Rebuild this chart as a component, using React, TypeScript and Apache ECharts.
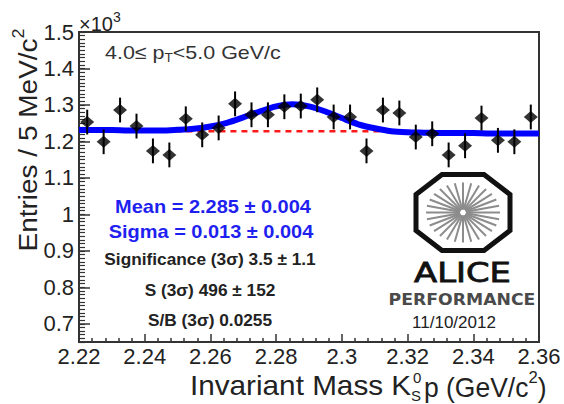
import React, { useEffect, useRef } from 'react';
import * as echarts from 'echarts';

// ---- data (values in units of 10^3 entries) ----
const binCenters = [
  2.2225, 2.2275, 2.2325, 2.2375, 2.2425, 2.2475, 2.2525, 2.2575, 2.2625, 2.2675,
  2.2725, 2.2775, 2.2825, 2.2875, 2.2925, 2.2975, 2.3025, 2.3075, 2.3125, 2.3175,
  2.3225, 2.3275, 2.3325, 2.3375, 2.3425, 2.3475, 2.3525, 2.3575,
];
const counts = [
  1.253, 1.199, 1.286, 1.242, 1.174, 1.163, 1.262, 1.218, 1.237, 1.303,
  1.273, 1.273, 1.295, 1.297, 1.314, 1.267, 1.267, 1.174, 1.286, 1.278,
  1.212, 1.221, 1.163, 1.188, 1.264, 1.203, 1.199, 1.267,
];
const errors = [
  0.034, 0.034, 0.034, 0.034, 0.034, 0.034, 0.034, 0.034, 0.034, 0.034,
  0.034, 0.034, 0.034, 0.034, 0.034, 0.034, 0.034, 0.034, 0.034, 0.034,
  0.034, 0.034, 0.034, 0.034, 0.034, 0.034, 0.034, 0.034,
];
const fitMass = [
  2.22, 2.225, 2.23, 2.235, 2.24, 2.245, 2.25, 2.255, 2.26, 2.265,
  2.27, 2.275, 2.28, 2.285, 2.29, 2.295, 2.3, 2.305, 2.31, 2.315,
  2.32, 2.325, 2.33, 2.335, 2.34, 2.345, 2.35, 2.355, 2.36,
];
const fitValues = [
  1.231, 1.231, 1.231, 1.230, 1.230, 1.230, 1.232, 1.235, 1.241, 1.251,
  1.266, 1.282, 1.296, 1.302, 1.296, 1.282, 1.264, 1.247, 1.236, 1.228,
  1.225, 1.224, 1.223, 1.223, 1.223, 1.222, 1.222, 1.222, 1.222,
];
const bkgMass = [2.246, 2.324];
const bkgValues = [1.228, 1.228];
const xTickLabels = ['2.22', '2.24', '2.26', '2.28', '2.3', '2.32', '2.34', '2.36'];
const yTickLabels = ['0.7', '0.8', '0.9', '1', '1.1', '1.2', '1.3', '1.4', '1.5'];

const FONT = "'Liberation Sans', Arial, Helvetica, sans-serif";
const DEJAVU = "'DejaVu Sans', sans-serif";
const TXT = '#222';

export default function App() {
  const ref = useRef<HTMLDivElement>(null);

  useEffect(() => {
    if (!ref.current) return;
    const chart = echarts.init(ref.current, null, { renderer: 'svg' });

    const xTicks = xTickLabels.map(Number);
    const yTicks = yTickLabels.map(Number);

    // ALICE logo geometry
    const cx = 463, cy = 212.5;
    const octagon = [
      [cx - 21, cy - 38], [cx + 21, cy - 38], [cx + 47, cy - 18], [cx + 47, cy + 18],
      [cx + 21, cy + 38], [cx - 21, cy + 38], [cx - 47, cy + 18], [cx - 47, cy - 18],
    ];
    const spokes: any[] = [];
    const nSpokes = 28;
    for (let k = 0; k < nSpokes; k++) {
      const a = (k * 2 * Math.PI) / nSpokes;
      spokes.push({
        type: 'line',
        shape: {
          x1: cx + Math.cos(a) * 3, y1: cy + Math.sin(a) * 3,
          x2: cx + Math.cos(a) * 37, y2: cy + Math.sin(a) * 30,
        },
        style: { stroke: '#8c8c8c', lineWidth: 2 },
      });
    }

    const option: any = {
      animation: false,
      backgroundColor: '#fff',
      grid: {
        left: 79, top: 32, right: 25, bottom: 62,
        show: true, borderColor: '#333', borderWidth: 2, backgroundColor: 'transparent',
      },
      xAxis: {
        type: 'value', min: 2.22, max: 2.36, interval: 0.02,
        axisLine: { show: true, lineStyle: { color: '#333', width: 2 } },
        axisTick: { show: true, inside: true, length: 8, lineStyle: { color: '#333', width: 1.5 } },
        minorTick: { show: true, splitNumber: 5, length: 4, lineStyle: { color: '#333', width: 1.5 } },
        splitLine: { show: false },
        axisLabel: {
          fontSize: 22, color: TXT, fontFamily: FONT, margin: 3,
          customValues: xTicks,
          formatter: (v: number) => String(parseFloat(v.toFixed(3))),
        },
      },
      yAxis: [
        {
          type: 'value', min: 0.65, max: 1.5, interval: 0.05,
          axisLine: { show: true, lineStyle: { color: '#333', width: 2 } },
          axisTick: {
            show: true, inside: true, length: 11, customValues: yTicks,
            lineStyle: { color: '#333', width: 1.5 },
          },
          splitLine: { show: false },
          axisLabel: {
            fontSize: 22, color: TXT, fontFamily: FONT, margin: 5,
            customValues: yTicks,
            formatter: (v: number) => {
              const r = Math.round(v * 10) / 10;
              return Math.abs(r - v) < 1e-6 ? String(r) : '';
            },
          },
        },
        {
          type: 'value', min: 0.65, max: 1.5, interval: 0.01, position: 'left',
          axisLine: { show: false },
          axisTick: { show: true, inside: true, length: 6, lineStyle: { color: '#333', width: 1.2 } },
          axisLabel: { show: false },
          splitLine: { show: false },
        },
      ],
      series: [
        {
          type: 'line', name: 'bkg', z: 2,
          data: bkgMass.map((m, i) => [m, bkgValues[i]]),
          showSymbol: false, symbol: 'none',
          lineStyle: { color: '#ff1a1a', width: 2.5, type: [6, 5] },
        },
        {
          type: 'line', name: 'fit', z: 3, smooth: 0.3,
          data: fitMass.map((m, i) => [m, fitValues[i]]),
          showSymbol: false, symbol: 'none',
          lineStyle: { color: '#0000ff', width: 6 },
        },
        {
          type: 'custom', name: 'err', z: 4,
          data: binCenters.map((m, i) => [m, counts[i], errors[i]]),
          encode: { x: 0, y: 1 },
          renderItem: (params: any, api: any) => {
            const x = api.value(0), y = api.value(1), e = api.value(2);
            const p1 = api.coord([x, y - e]);
            const p2 = api.coord([x, y + e]);
            return {
              type: 'line',
              shape: { x1: p1[0], y1: p1[1], x2: p2[0], y2: p2[1] },
              style: { stroke: '#000', lineWidth: 2 },
            };
          },
        },
        {
          type: 'scatter', name: 'data', z: 5,
          data: binCenters.map((m, i) => [m, counts[i]]),
          symbol: 'diamond', symbolSize: [14, 12],
          itemStyle: { color: '#000' },
        },
      ],
      graphic: [
        {
          type: 'text', x: 79, y: 34, z: 10,
          style: {
            text: '{a|×10}{b|3}', align: 'left', verticalAlign: 'bottom',
            rich: {
              a: { fontSize: 20, fontFamily: FONT, fill: TXT, lineHeight: 24, verticalAlign: 'bottom' },
              b: { fontSize: 14, fontFamily: FONT, fill: TXT, lineHeight: 14, verticalAlign: 'top' },
            },
          },
        },
        {
          type: 'text', x: 26, y: 140, rotation: Math.PI / 2, scaleX: 1.12, z: 10,
          style: {
            text: '{a|Entries / 5 MeV/c}{b|2}', align: 'center', verticalAlign: 'middle',
            rich: {
              a: { fontSize: 25, fontFamily: FONT, fill: TXT, lineHeight: 30, verticalAlign: 'bottom' },
              b: { fontSize: 16, fontFamily: FONT, fill: TXT, lineHeight: 16, verticalAlign: 'top' },
            },
          },
        },
        // x-axis title, split so that K carries a stacked 0 / S
        {
          type: 'text', x: 190, y: 385, scaleX: 1.1, z: 10,
          style: {
            text: 'Invariant Mass K', fontSize: 27, fontFamily: FONT, fill: TXT,
            align: 'left', verticalAlign: 'middle',
          },
        },
        {
          type: 'text', x: 413, y: 377, z: 10,
          style: { text: '0', fontSize: 15, fontFamily: FONT, fill: TXT, align: 'left', verticalAlign: 'middle' },
        },
        {
          type: 'text', x: 411, y: 395, z: 10,
          style: { text: 'S', fontSize: 15, fontFamily: FONT, fill: TXT, align: 'left', verticalAlign: 'middle' },
        },
        {
          type: 'text', x: 424, y: 385, scaleX: 0.98, z: 10,
          style: {
            text: '{a|p (GeV/c}{b|2}{a|)}', align: 'left', verticalAlign: 'middle',
            rich: {
              a: { fontSize: 27, fontFamily: FONT, fill: TXT, lineHeight: 32, verticalAlign: 'bottom' },
              b: { fontSize: 17, fontFamily: FONT, fill: TXT, lineHeight: 17, verticalAlign: 'top' },
            },
          },
        },
        {
          type: 'text', x: 105, y: 52, scaleX: 1.13, z: 10,
          style: {
            text: '{a|4.0≤ p}{b|T}{a|<5.0 GeV/c}', align: 'left', verticalAlign: 'middle',
            rich: {
              a: { fontSize: 19, fontFamily: FONT, fill: '#333', lineHeight: 24, verticalAlign: 'middle' },
              b: { fontSize: 12, fontFamily: FONT, fill: '#333', lineHeight: 12, verticalAlign: 'bottom' },
            },
          },
        },
        {
          type: 'text', x: 213, y: 207, scaleX: 1.11, z: 10,
          style: {
            text: 'Mean = 2.285 ± 0.004', fontSize: 18, fontWeight: 'bold', fontFamily: FONT,
            fill: '#1f1ff0', align: 'center', verticalAlign: 'middle',
          },
        },
        {
          type: 'text', x: 211, y: 232, scaleX: 1.11, z: 10,
          style: {
            text: 'Sigma = 0.013 ± 0.004', fontSize: 18, fontWeight: 'bold', fontFamily: FONT,
            fill: '#1f1ff0', align: 'center', verticalAlign: 'middle',
          },
        },
        {
          type: 'text', x: 210, y: 260, scaleX: 1.08, z: 10,
          style: {
            text: 'Significance (3σ) 3.5 ± 1.1', fontSize: 16, fontWeight: 'bold', fontFamily: FONT,
            fill: TXT, align: 'center', verticalAlign: 'middle',
          },
        },
        {
          type: 'text', x: 210, y: 291, scaleX: 1.08, z: 10,
          style: {
            text: 'S (3σ) 496 ± 152', fontSize: 16, fontWeight: 'bold', fontFamily: FONT,
            fill: TXT, align: 'center', verticalAlign: 'middle',
          },
        },
        {
          type: 'text', x: 210, y: 321, scaleX: 1.08, z: 10,
          style: {
            text: 'S/B (3σ) 0.0255', fontSize: 16, fontWeight: 'bold', fontFamily: FONT,
            fill: TXT, align: 'center', verticalAlign: 'middle',
          },
        },
        {
          type: 'group', z: 10,
          children: [
            ...spokes,
            {
              type: 'polygon', shape: { points: octagon },
              style: { fill: 'none', stroke: '#111', lineWidth: 5, lineJoin: 'miter' },
            },
            {
              type: 'text', x: 462.5, y: 273, scaleX: 1.3,
              style: {
                text: 'ALICE', fontSize: 26, fontFamily: DEJAVU,
                fill: '#111', align: 'center', verticalAlign: 'middle',
                stroke: '#111', lineWidth: 0.8,
              },
            },
            {
              type: 'text', x: 462, y: 300, scaleX: 1.15,
              style: {
                text: 'PERFORMANCE', fontSize: 15, fontWeight: 'bold', fontFamily: DEJAVU,
                fill: '#4a4a4a', align: 'center', verticalAlign: 'middle',
              },
            },
            {
              type: 'text', x: 454, y: 322.5,
              style: {
                text: '11/10/2012', fontSize: 17, fontFamily: FONT,
                fill: TXT, align: 'center', verticalAlign: 'middle',
              },
            },
          ],
        },
      ],
    };

    chart.setOption(option);
    return () => chart.dispose();
  }, []);

  return (
    <div
      ref={ref}
      style={{ position: 'fixed', left: 0, top: 0, width: 564, height: 404, background: '#fff' }}
    />
  );
}
